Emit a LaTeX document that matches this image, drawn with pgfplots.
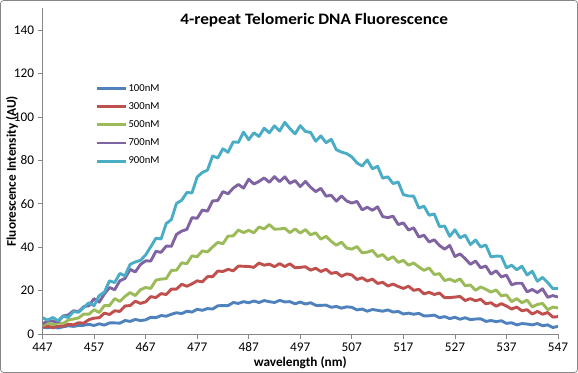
\documentclass[border=0pt]{standalone}
\usepackage{pgfplots}
\pgfplotsset{compat=1.18}
\usepackage{pgfplotstable}
\usepackage{fontspec}
\setmainfont{Carlito}
\newfontfamily\titlefont[FakeStretch=1.08]{Carlito}
\definecolor{s1}{HTML}{4F81BD}
\definecolor{s2}{HTML}{C0504D}
\definecolor{s3}{HTML}{9BBB59}
\definecolor{s4}{HTML}{8064A2}
\definecolor{s5}{HTML}{4BACC6}
\definecolor{axgray}{HTML}{868686}
\pgfplotstableread{
wl B R G P C
447 3.2 3.1 3.9 4.6 7.5
448 2.9 3.6 5.0 6.2 6.4
449 3.3 2.9 4.3 5.9 7.6
450 2.8 3.7 5.3 5.6 6.1
451 3.3 3.6 4.8 8.3 8.2
452 3.8 4.5 6.4 8.8 7.6
453 3.5 4.2 6.9 10.7 10.3
454 3.9 5.2 7.4 10.3 10.0
455 4.0 5.0 9.2 12.6 12.2
456 4.5 6.6 9.1 13.0 14.4
457 3.9 7.3 11.2 16.3 13.0
458 4.7 7.5 9.9 14.7 17.7
459 4.1 9.6 13.1 18.4 19.3
460 5.1 9.0 13.1 21.4 24.5
461 5.1 10.7 16.3 20.4 23.7
462 5.0 10.4 15.0 24.5 27.9
463 6.2 12.9 17.3 25.6 26.8
464 5.8 13.1 19.1 29.8 32.1
465 6.7 15.1 17.7 28.6 33.2
466 6.2 14.1 20.4 32.0 33.9
467 6.5 14.8 21.4 33.7 36.4
468 7.7 17.2 21.0 33.6 40.2
469 7.5 16.8 24.8 38.1 44.1
470 8.5 18.6 25.3 37.6 43.8
471 8.2 18.2 25.5 40.5 50.9
472 9.1 20.7 29.3 40.4 52.7
473 9.8 20.7 29.4 45.9 60.2
474 9.4 22.9 32.8 47.4 61.6
475 10.5 22.0 32.4 48.2 65.2
476 10.1 23.1 36.0 53.6 65.0
477 11.4 24.5 35.6 53.3 72.3
478 10.9 24.0 38.3 57.1 74.4
479 11.7 26.4 37.8 56.6 75.5
480 11.5 26.4 40.1 61.3 82.0
481 13.0 29.0 42.2 61.5 81.1
482 13.1 28.8 41.6 65.6 85.3
483 13.1 29.8 45.1 64.6 83.7
484 14.5 29.1 45.2 67.2 88.5
485 14.1 31.3 47.9 68.9 88.3
486 14.9 31.2 46.7 67.2 93.0
487 14.4 31.1 47.8 71.3 89.5
488 15.2 30.7 46.6 69.1 92.7
489 14.5 32.7 49.3 70.3 91.0
490 15.4 31.7 48.4 71.9 94.8
491 14.9 32.2 50.4 69.9 92.7
492 14.5 31.0 48.3 72.5 95.9
493 15.5 32.4 48.4 70.2 93.5
494 14.8 31.1 48.7 72.4 97.5
495 14.9 32.3 46.7 69.4 94.6
496 13.9 30.5 48.4 70.7 92.2
497 14.7 30.7 46.5 67.9 96.0
498 13.8 31.0 48.1 70.3 93.3
499 14.4 29.4 45.7 67.6 92.9
500 13.2 30.3 46.6 65.6 88.8
501 13.2 28.8 43.7 67.1 91.3
502 13.3 29.8 45.0 63.5 88.1
503 12.3 27.9 42.7 63.9 89.7
504 12.7 28.4 40.9 61.2 84.9
505 11.9 26.6 42.3 63.6 83.8
506 12.5 27.7 39.6 61.3 83.1
507 12.3 27.2 39.1 60.3 81.6
508 11.1 25.1 40.3 61.1 78.8
509 11.5 25.9 37.4 57.2 77.4
510 10.5 24.4 37.7 58.4 80.2
511 11.3 25.3 38.5 57.0 76.1
512 10.9 23.3 35.7 58.6 77.3
513 10.5 23.8 36.6 54.1 71.8
514 11.1 22.1 34.2 53.6 72.4
515 10.1 23.0 35.6 54.3 69.3
516 10.4 21.9 33.0 50.4 70.0
517 9.2 21.0 33.9 51.2 64.2
518 9.6 22.0 31.7 47.9 63.6
519 9.1 20.1 32.7 48.9 63.5
520 9.5 20.6 30.9 44.7 58.0
521 8.3 18.5 29.3 45.5 58.9
522 8.4 19.2 30.4 42.4 54.7
523 8.7 18.2 27.4 43.4 55.3
524 7.5 18.9 27.8 40.8 49.5
525 8.0 16.7 24.6 39.1 49.7
526 7.1 16.8 25.3 40.8 45.0
527 7.7 17.0 24.2 35.7 48.0
528 6.8 17.3 25.4 36.9 44.3
529 7.5 15.4 22.2 34.7 45.5
530 6.6 16.3 22.6 32.1 41.2
531 6.9 15.3 20.1 33.6 43.3
532 7.0 16.0 21.7 30.5 40.1
533 5.8 13.9 20.6 31.3 41.0
534 6.2 14.4 19.3 27.6 35.5
535 5.7 12.8 20.3 29.1 35.9
536 6.1 14.0 17.6 26.3 35.8
537 4.9 12.9 18.0 27.1 30.5
538 5.2 11.5 14.9 22.7 31.7
539 4.2 12.4 16.3 23.4 29.6
540 4.8 10.7 14.4 23.4 31.2
541 4.6 11.2 15.6 19.4 27.2
542 4.2 9.2 12.5 20.5 28.9
543 4.8 10.4 13.6 19.1 24.3
544 3.8 9.1 14.1 20.8 26.1
545 4.2 9.9 11.2 16.9 23.7
546 3.0 7.8 12.4 17.7 20.9
547 3.5 8.0 12.0 17.0 21.0
}\data
\begin{document}
\begin{tikzpicture}
\useasboundingbox (0,0) rectangle (578bp,373bp);
\draw[axgray, line width=0.75bp, rounded corners=3bp] (0.5bp,0.5bp) rectangle (577.5bp,372.5bp);
\begin{axis}[
  at={(42.5bp,39bp)}, anchor=south west,
  scale only axis, width=515.5bp, height=325.6bp,
  xmin=447, xmax=547, ymin=0, ymax=150,
  xtick={447,457,...,547}, ytick={0,20,...,140},
  axis x line*=bottom, axis y line*=left,
  axis line style={axgray, line width=0.75bp},
  tick style={axgray, line width=0.75bp},
  tick align=outside, major tick length=5bp,
  ticklabel style={font=\fontsize{13.3}{15}\selectfont},
  /pgf/number format/assume math mode=true,
  /pgf/number format/1000 sep={},
  xlabel={wavelength (nm)},
  ylabel={Fluorescence Intensity (AU)},
  xlabel style={font=\bfseries\fontsize{13.3}{15}\selectfont, at={(axis description cs:0.5,-0.088)}, anchor=center},
  ylabel style={font=\bfseries\fontsize{13.3}{15}\selectfont, at={(axis description cs:-0.059,0.5)}, anchor=center},
  title={4-repeat Telomeric DNA Fluorescence},
  title style={font=\titlefont\bfseries\fontsize{16}{18}\selectfont, at={(axis description cs:0.527,0.946)}, anchor=center},
  legend style={at={(axis description cs:0.097,0.777)}, anchor=north west, draw=none, fill=none,
    font=\fontsize{10.7}{12}\selectfont, row sep=7.1bp,
    nodes={inner sep=1bp, text height=7bp, text depth=2bp}},
  legend cell align=left,
  legend image code/.code={\draw[#1] (0bp,0bp) -- (29bp,0bp);},
  every axis plot/.append style={line width=2.9bp, line join=round, no markers},
]
\addplot[s1] table[x=wl,y=B]{\data};
\addplot[s2] table[x=wl,y=R]{\data};
\addplot[s3] table[x=wl,y=G]{\data};
\addplot[s4] table[x=wl,y=P]{\data};
\addplot[s5] table[x=wl,y=C]{\data};
\legend{100nM,300nM,500nM,700nM,900nM}
\end{axis}
\end{tikzpicture}
\end{document}
